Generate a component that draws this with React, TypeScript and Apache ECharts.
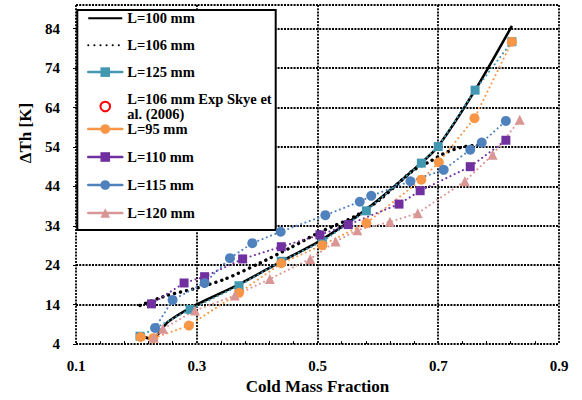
import React, { useEffect, useRef } from "react";
import * as echarts from "echarts";

const FONT = "'Times New Roman', 'Liberation Serif', serif";

// Series names
const NAME_100 = "L=100 mm";
const NAME_106 = "L=106 mm";
const NAME_125 = "L=125 mm";
const NAME_EXP = "L=106 mm Exp Skye et\nal. (2006)";
const NAME_95 = "L=95 mm";
const NAME_110 = "L=110 mm";
const NAME_115 = "L=115 mm";
const NAME_120 = "L=120 mm";

// Axis ticks
const xMin = 0.1, xMax = 0.9, xStep = 0.2;
const yMin = 4, yMax = 90, yStep = 10;

// Data: [cold mass fraction, ΔTh]
const L100: [number, number][] = [
  [0.206, 6.1], [0.226, 5.3], [0.252, 9.6], [0.292, 13.4], [0.371, 19.2], [0.438, 24.8],
  [0.504, 30.2], [0.582, 38.3], [0.670, 49.7], [0.700, 54.2], [0.761, 68.4], [0.822, 84.7],
];
const L106: [number, number][] = [
  [0.206, 13.8], [0.250, 16.3], [0.300, 18.2], [0.347, 20.5], [0.404, 24.5], [0.457, 28.6],
  [0.504, 32.4], [0.562, 36.4], [0.603, 40.6], [0.658, 48.0], [0.686, 50.3], [0.713, 52.6],
  [0.738, 53.9], [0.770, 54.6],
];
const L125: [number, number][] = [
  [0.206, 6.0], [0.289, 12.8], [0.370, 18.8], [0.440, 25.0], [0.508, 30.0], [0.581, 37.8],
  [0.672, 49.9], [0.700, 54.1], [0.761, 68.4], [0.822, 80.7],
];
const LEXP: [number, number][] = [];
const L95: [number, number][] = [
  [0.207, 5.8], [0.228, 5.5], [0.287, 8.7], [0.370, 17.0], [0.440, 24.5], [0.508, 29.1],
  [0.581, 34.7], [0.672, 45.7], [0.701, 50.1], [0.760, 61.3], [0.822, 80.7],
];
const L110: [number, number][] = [
  [0.225, 14.2], [0.279, 19.5], [0.313, 21.1], [0.376, 25.6], [0.440, 28.7], [0.504, 31.7],
  [0.551, 34.3], [0.635, 39.5], [0.670, 42.9], [0.753, 49.0], [0.812, 55.7],
];
const L115: [number, number][] = [
  [0.231, 8.1], [0.260, 15.2], [0.313, 19.5], [0.355, 25.8], [0.392, 29.6], [0.439, 32.5],
  [0.513, 36.7], [0.570, 40.1], [0.589, 41.6], [0.654, 45.3], [0.709, 48.2], [0.753, 53.3],
  [0.772, 55.1], [0.812, 60.6],
];
const L120: [number, number][] = [
  [0.229, 5.7], [0.244, 7.9], [0.297, 12.5], [0.363, 16.3], [0.421, 20.5], [0.488, 25.6],
  [0.530, 30.0], [0.566, 32.9], [0.620, 35.0], [0.666, 37.2], [0.744, 45.3], [0.790, 52.0],
  [0.835, 60.9],
];

const TEAL = "#4298B0";
const ORANGE = "#F79646";
const PURPLE = "#7030A0";
const BLUE = "#4F81BD";
const PINK = "#D99694";

const dotted = [0.1, 4.5];

function markerSeries(name: string, data: [number, number][], color: string, symbol: string, size: number) {
  return {
    name,
    type: "line",
    data,
    symbol,
    symbolSize: size,
    showSymbol: true,
    lineStyle: { color, width: 2, type: dotted, cap: "round" },
    itemStyle: { color },
    emphasis: { disabled: true },
    silent: true,
  };
}

const textBase = {
  fontFamily: FONT,
  fontSize: 14.5,
  fontWeight: "bold",
  color: "#000",
};

export default function App() {
  const ref = useRef<HTMLDivElement>(null);
  useEffect(() => {
    if (!ref.current) return;
    const chart = echarts.init(ref.current, undefined, { renderer: "svg" });
    const splitLine = { show: true, lineStyle: { color: "#000", width: 1.8, type: [2, 1.2] } };
    const option: any = {
      animation: false,
      backgroundColor: "#fff",
      grid: { left: 76, right: 23, top: 5, bottom: 55 },
      xAxis: {
        type: "value",
        min: xMin,
        max: xMax,
        interval: xStep,
        name: "Cold Mass Fraction",
        nameLocation: "middle",
        nameGap: 32,
        nameTextStyle: { fontFamily: FONT, fontSize: 17, fontWeight: "bold", color: "#000" },
        axisLine: { show: false },
        axisTick: { show: false, inside: true },
        minorTick: { show: true, splitNumber: 5, length: 3, lineStyle: { color: "#000", width: 1 } },
        axisLabel: {
          fontFamily: FONT, fontSize: 15, fontWeight: "bold", color: "#000", margin: 14,
          formatter: (v: number) => v.toFixed(1),
        },
        splitLine,
      },
      yAxis: {
        type: "value",
        min: yMin,
        max: yMax,
        interval: yStep,
        axisLine: { show: false },
        axisTick: { show: true, length: 3, lineStyle: { color: "#000", width: 1 } },
        axisLabel: {
          fontFamily: FONT, fontSize: 15, fontWeight: "bold", color: "#000", margin: 16,
          showMaxLabel: false,
        },
        splitLine,
      },
      legend: [
        {
          orient: "vertical",
          left: 87,
          top: 10.8,
          padding: 0,
          itemWidth: 34,
          itemHeight: 12,
          itemGap: 11.9,
          selectedMode: false,
          textStyle: { ...textBase, lineHeight: 15 },
          data: [
            { name: NAME_100 },
            { name: NAME_106 },
            { name: NAME_125, lineStyle: { type: "solid", width: 2.5 } },
            { name: NAME_EXP },
          ],
        },
        {
          orient: "vertical",
          left: 87,
          top: 121.5,
          padding: 0,
          itemWidth: 34,
          itemHeight: 12,
          itemGap: 13,
          selectedMode: false,
          textStyle: { ...textBase, lineHeight: 14 },
          lineStyle: { type: "solid", width: 2.5 },
          data: [{ name: NAME_95 }, { name: NAME_110 }, { name: NAME_115 }, { name: NAME_120 }],
        },
      ],
      graphic: [
        {
          type: "rect",
          z: 3,
          shape: { x: 77.3, y: 10, width: 198.4, height: 220 },
          style: { fill: "#fff", stroke: "#000", lineWidth: 2 },
        },
        {
          type: "text",
          x: 25,
          y: 133,
          rotation: Math.PI / 2,
          style: {
            text: "ΔTh [K]",
            fontFamily: FONT,
            fontSize: 17,
            fontWeight: "bold",
            fill: "#000",
            align: "center",
            verticalAlign: "middle",
            textAlign: "center",
            textVerticalAlign: "middle",
          },
        },
      ],
      series: [
        {
          name: NAME_100,
          type: "line",
          data: L100,
          symbol: "none",
          smooth: 0.25,
          lineStyle: { color: "#000", width: 2.6 },
          itemStyle: { color: "#000", opacity: 0 },
          emphasis: { disabled: true },
          silent: true,
        },
        {
          name: NAME_106,
          type: "line",
          data: L106,
          symbol: "none",
          smooth: 0.25,
          lineStyle: { color: "#000", width: 3.4, type: [0.1, 6], cap: "round" },
          itemStyle: { color: "#000", opacity: 0 },
          emphasis: { disabled: true },
          silent: true,
        },
        markerSeries(NAME_125, L125, TEAL, "rect", 9),
        {
          name: NAME_EXP,
          type: "line",
          data: LEXP,
          symbol: "emptyCircle",
          symbolSize: 7,
          lineStyle: { color: "#FF0000", width: 0, opacity: 0 },
          itemStyle: { color: "#FF0000", borderWidth: 3 },
          emphasis: { disabled: true },
          silent: true,
        },
        markerSeries(NAME_95, L95, ORANGE, "circle", 10),
        markerSeries(NAME_110, L110, PURPLE, "rect", 9),
        markerSeries(NAME_115, L115, BLUE, "circle", 10),
        markerSeries(NAME_120, L120, PINK, "triangle", 10),
      ],
    };
    chart.setOption(option);
    return () => chart.dispose();
  }, []);
  return (
    <div
      ref={ref}
      style={{ position: "absolute", left: 0, top: 0, width: 582, height: 400 }}
    />
  );
}
